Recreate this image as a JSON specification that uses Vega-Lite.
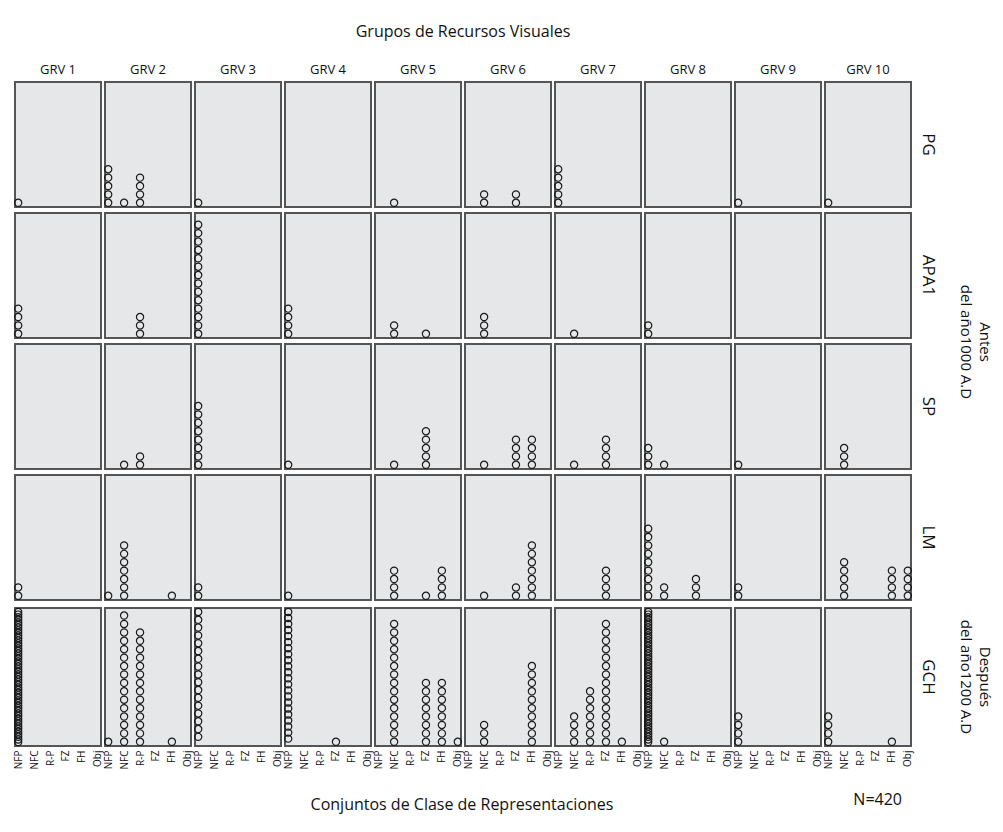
{
"$schema": "https://vega.github.io/schema/vega-lite/v6.json",
"background": "white",
"padding": {"left": 11, "top": 24, "right": 5, "bottom": 5},
"config": {
  "font": "Open Sans",
  "view": {"fill": "#e6e7e8", "stroke": "#555555", "strokeWidth": 2},
  "axis": {"grid": false},
  "header": {"labelColor": "#111", "titleColor": "#111", "titleFontWeight": "normal"},
  "title": {"color": "#111", "fontWeight": "normal"}
},
"data": {"values": [
{"grv":1,"fila":1,"clase":"NFP"},
{"grv":2,"fila":1,"clase":"NFP"},{"grv":2,"fila":1,"clase":"NFP"},{"grv":2,"fila":1,"clase":"NFP"},{"grv":2,"fila":1,"clase":"NFP"},{"grv":2,"fila":1,"clase":"NFP"},
{"grv":2,"fila":1,"clase":"NFC"},
{"grv":2,"fila":1,"clase":"R-P"},{"grv":2,"fila":1,"clase":"R-P"},{"grv":2,"fila":1,"clase":"R-P"},{"grv":2,"fila":1,"clase":"R-P"},
{"grv":3,"fila":1,"clase":"NFP"},
{"grv":5,"fila":1,"clase":"NFC"},
{"grv":6,"fila":1,"clase":"NFC"},{"grv":6,"fila":1,"clase":"NFC"},
{"grv":6,"fila":1,"clase":"FZ"},{"grv":6,"fila":1,"clase":"FZ"},
{"grv":7,"fila":1,"clase":"NFP"},{"grv":7,"fila":1,"clase":"NFP"},{"grv":7,"fila":1,"clase":"NFP"},{"grv":7,"fila":1,"clase":"NFP"},{"grv":7,"fila":1,"clase":"NFP"},
{"grv":9,"fila":1,"clase":"NFP"},
{"grv":10,"fila":1,"clase":"NFP"},
{"grv":1,"fila":2,"clase":"NFP"},{"grv":1,"fila":2,"clase":"NFP"},{"grv":1,"fila":2,"clase":"NFP"},{"grv":1,"fila":2,"clase":"NFP"},
{"grv":2,"fila":2,"clase":"R-P"},{"grv":2,"fila":2,"clase":"R-P"},{"grv":2,"fila":2,"clase":"R-P"},
{"grv":3,"fila":2,"clase":"NFP"},{"grv":3,"fila":2,"clase":"NFP"},{"grv":3,"fila":2,"clase":"NFP"},{"grv":3,"fila":2,"clase":"NFP"},
{"grv":3,"fila":2,"clase":"NFP"},{"grv":3,"fila":2,"clase":"NFP"},{"grv":3,"fila":2,"clase":"NFP"},{"grv":3,"fila":2,"clase":"NFP"},
{"grv":3,"fila":2,"clase":"NFP"},{"grv":3,"fila":2,"clase":"NFP"},{"grv":3,"fila":2,"clase":"NFP"},{"grv":3,"fila":2,"clase":"NFP"},
{"grv":3,"fila":2,"clase":"NFP"},{"grv":3,"fila":2,"clase":"NFP"},
{"grv":4,"fila":2,"clase":"NFP"},{"grv":4,"fila":2,"clase":"NFP"},{"grv":4,"fila":2,"clase":"NFP"},{"grv":4,"fila":2,"clase":"NFP"},
{"grv":5,"fila":2,"clase":"NFC"},{"grv":5,"fila":2,"clase":"NFC"},
{"grv":5,"fila":2,"clase":"FZ"},
{"grv":6,"fila":2,"clase":"NFC"},{"grv":6,"fila":2,"clase":"NFC"},{"grv":6,"fila":2,"clase":"NFC"},
{"grv":7,"fila":2,"clase":"NFC"},
{"grv":8,"fila":2,"clase":"NFP"},{"grv":8,"fila":2,"clase":"NFP"},
{"grv":2,"fila":3,"clase":"NFC"},
{"grv":2,"fila":3,"clase":"R-P"},{"grv":2,"fila":3,"clase":"R-P"},
{"grv":3,"fila":3,"clase":"NFP"},{"grv":3,"fila":3,"clase":"NFP"},{"grv":3,"fila":3,"clase":"NFP"},{"grv":3,"fila":3,"clase":"NFP"},
{"grv":3,"fila":3,"clase":"NFP"},{"grv":3,"fila":3,"clase":"NFP"},{"grv":3,"fila":3,"clase":"NFP"},{"grv":3,"fila":3,"clase":"NFP"},
{"grv":4,"fila":3,"clase":"NFP"},
{"grv":5,"fila":3,"clase":"NFC"},
{"grv":5,"fila":3,"clase":"FZ"},{"grv":5,"fila":3,"clase":"FZ"},{"grv":5,"fila":3,"clase":"FZ"},{"grv":5,"fila":3,"clase":"FZ"},{"grv":5,"fila":3,"clase":"FZ"},
{"grv":6,"fila":3,"clase":"NFC"},
{"grv":6,"fila":3,"clase":"FZ"},{"grv":6,"fila":3,"clase":"FZ"},{"grv":6,"fila":3,"clase":"FZ"},{"grv":6,"fila":3,"clase":"FZ"},
{"grv":6,"fila":3,"clase":"FH"},{"grv":6,"fila":3,"clase":"FH"},{"grv":6,"fila":3,"clase":"FH"},{"grv":6,"fila":3,"clase":"FH"},
{"grv":7,"fila":3,"clase":"NFC"},
{"grv":7,"fila":3,"clase":"FZ"},{"grv":7,"fila":3,"clase":"FZ"},{"grv":7,"fila":3,"clase":"FZ"},{"grv":7,"fila":3,"clase":"FZ"},
{"grv":8,"fila":3,"clase":"NFP"},{"grv":8,"fila":3,"clase":"NFP"},{"grv":8,"fila":3,"clase":"NFP"},
{"grv":8,"fila":3,"clase":"NFC"},
{"grv":9,"fila":3,"clase":"NFP"},
{"grv":10,"fila":3,"clase":"NFC"},{"grv":10,"fila":3,"clase":"NFC"},{"grv":10,"fila":3,"clase":"NFC"},
{"grv":1,"fila":4,"clase":"NFP"},{"grv":1,"fila":4,"clase":"NFP"},
{"grv":2,"fila":4,"clase":"NFP"},
{"grv":2,"fila":4,"clase":"NFC"},{"grv":2,"fila":4,"clase":"NFC"},{"grv":2,"fila":4,"clase":"NFC"},{"grv":2,"fila":4,"clase":"NFC"},
{"grv":2,"fila":4,"clase":"NFC"},{"grv":2,"fila":4,"clase":"NFC"},{"grv":2,"fila":4,"clase":"NFC"},
{"grv":2,"fila":4,"clase":"FH"},
{"grv":3,"fila":4,"clase":"NFP"},{"grv":3,"fila":4,"clase":"NFP"},
{"grv":4,"fila":4,"clase":"NFP"},
{"grv":5,"fila":4,"clase":"NFC"},{"grv":5,"fila":4,"clase":"NFC"},{"grv":5,"fila":4,"clase":"NFC"},{"grv":5,"fila":4,"clase":"NFC"},
{"grv":5,"fila":4,"clase":"FZ"},
{"grv":5,"fila":4,"clase":"FH"},{"grv":5,"fila":4,"clase":"FH"},{"grv":5,"fila":4,"clase":"FH"},{"grv":5,"fila":4,"clase":"FH"},
{"grv":6,"fila":4,"clase":"NFC"},
{"grv":6,"fila":4,"clase":"FZ"},{"grv":6,"fila":4,"clase":"FZ"},
{"grv":6,"fila":4,"clase":"FH"},{"grv":6,"fila":4,"clase":"FH"},{"grv":6,"fila":4,"clase":"FH"},{"grv":6,"fila":4,"clase":"FH"},
{"grv":6,"fila":4,"clase":"FH"},{"grv":6,"fila":4,"clase":"FH"},{"grv":6,"fila":4,"clase":"FH"},
{"grv":7,"fila":4,"clase":"FZ"},{"grv":7,"fila":4,"clase":"FZ"},{"grv":7,"fila":4,"clase":"FZ"},{"grv":7,"fila":4,"clase":"FZ"},
{"grv":8,"fila":4,"clase":"NFP"},{"grv":8,"fila":4,"clase":"NFP"},{"grv":8,"fila":4,"clase":"NFP"},{"grv":8,"fila":4,"clase":"NFP"},
{"grv":8,"fila":4,"clase":"NFP"},{"grv":8,"fila":4,"clase":"NFP"},{"grv":8,"fila":4,"clase":"NFP"},{"grv":8,"fila":4,"clase":"NFP"},
{"grv":8,"fila":4,"clase":"NFP"},
{"grv":8,"fila":4,"clase":"NFC"},{"grv":8,"fila":4,"clase":"NFC"},
{"grv":8,"fila":4,"clase":"FZ"},{"grv":8,"fila":4,"clase":"FZ"},{"grv":8,"fila":4,"clase":"FZ"},
{"grv":9,"fila":4,"clase":"NFP"},{"grv":9,"fila":4,"clase":"NFP"},
{"grv":10,"fila":4,"clase":"NFC"},{"grv":10,"fila":4,"clase":"NFC"},{"grv":10,"fila":4,"clase":"NFC"},{"grv":10,"fila":4,"clase":"NFC"},{"grv":10,"fila":4,"clase":"NFC"},
{"grv":10,"fila":4,"clase":"FH"},{"grv":10,"fila":4,"clase":"FH"},{"grv":10,"fila":4,"clase":"FH"},{"grv":10,"fila":4,"clase":"FH"},
{"grv":10,"fila":4,"clase":"Obj"},{"grv":10,"fila":4,"clase":"Obj"},{"grv":10,"fila":4,"clase":"Obj"},{"grv":10,"fila":4,"clase":"Obj"},
{"grv":1,"fila":5,"clase":"NFP"},{"grv":1,"fila":5,"clase":"NFP"},{"grv":1,"fila":5,"clase":"NFP"},{"grv":1,"fila":5,"clase":"NFP"},
{"grv":1,"fila":5,"clase":"NFP"},{"grv":1,"fila":5,"clase":"NFP"},{"grv":1,"fila":5,"clase":"NFP"},{"grv":1,"fila":5,"clase":"NFP"},
{"grv":1,"fila":5,"clase":"NFP"},{"grv":1,"fila":5,"clase":"NFP"},{"grv":1,"fila":5,"clase":"NFP"},{"grv":1,"fila":5,"clase":"NFP"},
{"grv":1,"fila":5,"clase":"NFP"},{"grv":1,"fila":5,"clase":"NFP"},{"grv":1,"fila":5,"clase":"NFP"},{"grv":1,"fila":5,"clase":"NFP"},
{"grv":1,"fila":5,"clase":"NFP"},{"grv":1,"fila":5,"clase":"NFP"},{"grv":1,"fila":5,"clase":"NFP"},{"grv":1,"fila":5,"clase":"NFP"},
{"grv":1,"fila":5,"clase":"NFP"},{"grv":1,"fila":5,"clase":"NFP"},{"grv":1,"fila":5,"clase":"NFP"},{"grv":1,"fila":5,"clase":"NFP"},
{"grv":1,"fila":5,"clase":"NFP"},{"grv":1,"fila":5,"clase":"NFP"},{"grv":1,"fila":5,"clase":"NFP"},{"grv":1,"fila":5,"clase":"NFP"},
{"grv":1,"fila":5,"clase":"NFP"},{"grv":1,"fila":5,"clase":"NFP"},{"grv":1,"fila":5,"clase":"NFP"},{"grv":1,"fila":5,"clase":"NFP"},
{"grv":1,"fila":5,"clase":"NFP"},{"grv":1,"fila":5,"clase":"NFP"},{"grv":1,"fila":5,"clase":"NFP"},{"grv":1,"fila":5,"clase":"NFP"},
{"grv":1,"fila":5,"clase":"NFP"},{"grv":1,"fila":5,"clase":"NFP"},{"grv":1,"fila":5,"clase":"NFP"},{"grv":1,"fila":5,"clase":"NFP"},
{"grv":1,"fila":5,"clase":"NFP"},{"grv":1,"fila":5,"clase":"NFP"},{"grv":1,"fila":5,"clase":"NFP"},{"grv":1,"fila":5,"clase":"NFP"},
{"grv":1,"fila":5,"clase":"NFP"},{"grv":1,"fila":5,"clase":"NFP"},{"grv":1,"fila":5,"clase":"NFP"},{"grv":1,"fila":5,"clase":"NFP"},
{"grv":1,"fila":5,"clase":"NFP"},{"grv":1,"fila":5,"clase":"NFP"},{"grv":1,"fila":5,"clase":"NFP"},
{"grv":2,"fila":5,"clase":"NFP"},
{"grv":2,"fila":5,"clase":"NFC"},{"grv":2,"fila":5,"clase":"NFC"},{"grv":2,"fila":5,"clase":"NFC"},{"grv":2,"fila":5,"clase":"NFC"},{"grv":2,"fila":5,"clase":"NFC"},
{"grv":2,"fila":5,"clase":"NFC"},{"grv":2,"fila":5,"clase":"NFC"},{"grv":2,"fila":5,"clase":"NFC"},{"grv":2,"fila":5,"clase":"NFC"},{"grv":2,"fila":5,"clase":"NFC"},
{"grv":2,"fila":5,"clase":"NFC"},{"grv":2,"fila":5,"clase":"NFC"},{"grv":2,"fila":5,"clase":"NFC"},{"grv":2,"fila":5,"clase":"NFC"},{"grv":2,"fila":5,"clase":"NFC"},
{"grv":2,"fila":5,"clase":"NFC"},
{"grv":2,"fila":5,"clase":"R-P"},{"grv":2,"fila":5,"clase":"R-P"},{"grv":2,"fila":5,"clase":"R-P"},{"grv":2,"fila":5,"clase":"R-P"},{"grv":2,"fila":5,"clase":"R-P"},
{"grv":2,"fila":5,"clase":"R-P"},{"grv":2,"fila":5,"clase":"R-P"},{"grv":2,"fila":5,"clase":"R-P"},{"grv":2,"fila":5,"clase":"R-P"},{"grv":2,"fila":5,"clase":"R-P"},
{"grv":2,"fila":5,"clase":"R-P"},{"grv":2,"fila":5,"clase":"R-P"},{"grv":2,"fila":5,"clase":"R-P"},{"grv":2,"fila":5,"clase":"R-P"},
{"grv":2,"fila":5,"clase":"FH"},
{"grv":3,"fila":5,"clase":"NFP"},{"grv":3,"fila":5,"clase":"NFP"},{"grv":3,"fila":5,"clase":"NFP"},{"grv":3,"fila":5,"clase":"NFP"},
{"grv":3,"fila":5,"clase":"NFP"},{"grv":3,"fila":5,"clase":"NFP"},{"grv":3,"fila":5,"clase":"NFP"},{"grv":3,"fila":5,"clase":"NFP"},
{"grv":3,"fila":5,"clase":"NFP"},{"grv":3,"fila":5,"clase":"NFP"},{"grv":3,"fila":5,"clase":"NFP"},{"grv":3,"fila":5,"clase":"NFP"},
{"grv":3,"fila":5,"clase":"NFP"},{"grv":3,"fila":5,"clase":"NFP"},{"grv":3,"fila":5,"clase":"NFP"},{"grv":3,"fila":5,"clase":"NFP"},
{"grv":3,"fila":5,"clase":"NFP"},
{"grv":4,"fila":5,"clase":"NFP"},{"grv":4,"fila":5,"clase":"NFP"},{"grv":4,"fila":5,"clase":"NFP"},{"grv":4,"fila":5,"clase":"NFP"},
{"grv":4,"fila":5,"clase":"NFP"},{"grv":4,"fila":5,"clase":"NFP"},{"grv":4,"fila":5,"clase":"NFP"},{"grv":4,"fila":5,"clase":"NFP"},
{"grv":4,"fila":5,"clase":"NFP"},{"grv":4,"fila":5,"clase":"NFP"},{"grv":4,"fila":5,"clase":"NFP"},{"grv":4,"fila":5,"clase":"NFP"},
{"grv":4,"fila":5,"clase":"NFP"},{"grv":4,"fila":5,"clase":"NFP"},{"grv":4,"fila":5,"clase":"NFP"},{"grv":4,"fila":5,"clase":"NFP"},
{"grv":4,"fila":5,"clase":"NFP"},{"grv":4,"fila":5,"clase":"NFP"},{"grv":4,"fila":5,"clase":"NFP"},{"grv":4,"fila":5,"clase":"NFP"},
{"grv":4,"fila":5,"clase":"NFP"},{"grv":4,"fila":5,"clase":"NFP"},
{"grv":4,"fila":5,"clase":"FZ"},
{"grv":5,"fila":5,"clase":"NFC"},{"grv":5,"fila":5,"clase":"NFC"},{"grv":5,"fila":5,"clase":"NFC"},{"grv":5,"fila":5,"clase":"NFC"},{"grv":5,"fila":5,"clase":"NFC"},
{"grv":5,"fila":5,"clase":"NFC"},{"grv":5,"fila":5,"clase":"NFC"},{"grv":5,"fila":5,"clase":"NFC"},{"grv":5,"fila":5,"clase":"NFC"},{"grv":5,"fila":5,"clase":"NFC"},
{"grv":5,"fila":5,"clase":"NFC"},{"grv":5,"fila":5,"clase":"NFC"},{"grv":5,"fila":5,"clase":"NFC"},{"grv":5,"fila":5,"clase":"NFC"},{"grv":5,"fila":5,"clase":"NFC"},
{"grv":5,"fila":5,"clase":"FZ"},{"grv":5,"fila":5,"clase":"FZ"},{"grv":5,"fila":5,"clase":"FZ"},{"grv":5,"fila":5,"clase":"FZ"},
{"grv":5,"fila":5,"clase":"FZ"},{"grv":5,"fila":5,"clase":"FZ"},{"grv":5,"fila":5,"clase":"FZ"},{"grv":5,"fila":5,"clase":"FZ"},
{"grv":5,"fila":5,"clase":"FH"},{"grv":5,"fila":5,"clase":"FH"},{"grv":5,"fila":5,"clase":"FH"},{"grv":5,"fila":5,"clase":"FH"},
{"grv":5,"fila":5,"clase":"FH"},{"grv":5,"fila":5,"clase":"FH"},{"grv":5,"fila":5,"clase":"FH"},{"grv":5,"fila":5,"clase":"FH"},
{"grv":5,"fila":5,"clase":"Obj"},
{"grv":6,"fila":5,"clase":"NFC"},{"grv":6,"fila":5,"clase":"NFC"},{"grv":6,"fila":5,"clase":"NFC"},
{"grv":6,"fila":5,"clase":"FH"},{"grv":6,"fila":5,"clase":"FH"},{"grv":6,"fila":5,"clase":"FH"},{"grv":6,"fila":5,"clase":"FH"},{"grv":6,"fila":5,"clase":"FH"},
{"grv":6,"fila":5,"clase":"FH"},{"grv":6,"fila":5,"clase":"FH"},{"grv":6,"fila":5,"clase":"FH"},{"grv":6,"fila":5,"clase":"FH"},{"grv":6,"fila":5,"clase":"FH"},
{"grv":7,"fila":5,"clase":"NFC"},{"grv":7,"fila":5,"clase":"NFC"},{"grv":7,"fila":5,"clase":"NFC"},{"grv":7,"fila":5,"clase":"NFC"},
{"grv":7,"fila":5,"clase":"R-P"},{"grv":7,"fila":5,"clase":"R-P"},{"grv":7,"fila":5,"clase":"R-P"},{"grv":7,"fila":5,"clase":"R-P"},
{"grv":7,"fila":5,"clase":"R-P"},{"grv":7,"fila":5,"clase":"R-P"},{"grv":7,"fila":5,"clase":"R-P"},
{"grv":7,"fila":5,"clase":"FZ"},{"grv":7,"fila":5,"clase":"FZ"},{"grv":7,"fila":5,"clase":"FZ"},{"grv":7,"fila":5,"clase":"FZ"},{"grv":7,"fila":5,"clase":"FZ"},
{"grv":7,"fila":5,"clase":"FZ"},{"grv":7,"fila":5,"clase":"FZ"},{"grv":7,"fila":5,"clase":"FZ"},{"grv":7,"fila":5,"clase":"FZ"},{"grv":7,"fila":5,"clase":"FZ"},
{"grv":7,"fila":5,"clase":"FZ"},{"grv":7,"fila":5,"clase":"FZ"},{"grv":7,"fila":5,"clase":"FZ"},{"grv":7,"fila":5,"clase":"FZ"},{"grv":7,"fila":5,"clase":"FZ"},
{"grv":7,"fila":5,"clase":"FH"},
{"grv":8,"fila":5,"clase":"NFP"},{"grv":8,"fila":5,"clase":"NFP"},{"grv":8,"fila":5,"clase":"NFP"},{"grv":8,"fila":5,"clase":"NFP"},
{"grv":8,"fila":5,"clase":"NFP"},{"grv":8,"fila":5,"clase":"NFP"},{"grv":8,"fila":5,"clase":"NFP"},{"grv":8,"fila":5,"clase":"NFP"},
{"grv":8,"fila":5,"clase":"NFP"},{"grv":8,"fila":5,"clase":"NFP"},{"grv":8,"fila":5,"clase":"NFP"},{"grv":8,"fila":5,"clase":"NFP"},
{"grv":8,"fila":5,"clase":"NFP"},{"grv":8,"fila":5,"clase":"NFP"},{"grv":8,"fila":5,"clase":"NFP"},{"grv":8,"fila":5,"clase":"NFP"},
{"grv":8,"fila":5,"clase":"NFP"},{"grv":8,"fila":5,"clase":"NFP"},{"grv":8,"fila":5,"clase":"NFP"},{"grv":8,"fila":5,"clase":"NFP"},
{"grv":8,"fila":5,"clase":"NFP"},{"grv":8,"fila":5,"clase":"NFP"},{"grv":8,"fila":5,"clase":"NFP"},{"grv":8,"fila":5,"clase":"NFP"},
{"grv":8,"fila":5,"clase":"NFP"},{"grv":8,"fila":5,"clase":"NFP"},{"grv":8,"fila":5,"clase":"NFP"},{"grv":8,"fila":5,"clase":"NFP"},
{"grv":8,"fila":5,"clase":"NFP"},{"grv":8,"fila":5,"clase":"NFP"},{"grv":8,"fila":5,"clase":"NFP"},{"grv":8,"fila":5,"clase":"NFP"},
{"grv":8,"fila":5,"clase":"NFP"},{"grv":8,"fila":5,"clase":"NFP"},{"grv":8,"fila":5,"clase":"NFP"},{"grv":8,"fila":5,"clase":"NFP"},
{"grv":8,"fila":5,"clase":"NFP"},{"grv":8,"fila":5,"clase":"NFP"},{"grv":8,"fila":5,"clase":"NFP"},{"grv":8,"fila":5,"clase":"NFP"},
{"grv":8,"fila":5,"clase":"NFP"},{"grv":8,"fila":5,"clase":"NFP"},{"grv":8,"fila":5,"clase":"NFP"},{"grv":8,"fila":5,"clase":"NFP"},
{"grv":8,"fila":5,"clase":"NFP"},{"grv":8,"fila":5,"clase":"NFP"},{"grv":8,"fila":5,"clase":"NFP"},{"grv":8,"fila":5,"clase":"NFP"},
{"grv":8,"fila":5,"clase":"NFP"},{"grv":8,"fila":5,"clase":"NFP"},{"grv":8,"fila":5,"clase":"NFP"},
{"grv":8,"fila":5,"clase":"NFC"},
{"grv":9,"fila":5,"clase":"NFP"},{"grv":9,"fila":5,"clase":"NFP"},{"grv":9,"fila":5,"clase":"NFP"},{"grv":9,"fila":5,"clase":"NFP"},
{"grv":10,"fila":5,"clase":"NFP"},{"grv":10,"fila":5,"clase":"NFP"},{"grv":10,"fila":5,"clase":"NFP"},{"grv":10,"fila":5,"clase":"NFP"},
{"grv":10,"fila":5,"clase":"FH"}
]},
"spacing": 1,
"vconcat": [
  {
    "transform": [
      {"filter": "datum.fila <= 4"},
      {"window": [{"op": "row_number", "as": "n"}], "groupby": ["grv", "fila", "clase"]}
    ],
    "bounds": "flush",
    "facet": {
      "column": {"field": "grv", "type": "ordinal", "sort": "ascending",
        "header": {"title": "Grupos de Recursos Visuales", "titleFontSize": 16, "titlePadding": 14,
                   "labelExpr": "'GRV ' + datum.value", "labelFontSize": 13, "labelPadding": 5}},
      "row": {"field": "fila", "type": "ordinal", "sort": "ascending",
        "header": {"labelOrient": "right", "labelAngle": 90, "labelFontSize": 17, "labelPadding": 8,
                   "labelExpr": "['', 'PG', 'APA1', 'SP', 'LM', 'GCH'][datum.value]",
                   "title": ["Antes", "del año1000 A.D"], "titleOrient": "right", "titleAngle": 90,
                   "titleFontSize": 15, "titlePadding": 11, "titleLineHeight": 19}}
    },
    "spacing": {"row": 6, "column": 4},
    "spec": {
      "width": 86, "height": 125,
      "mark": {"type": "point", "shape": "circle", "filled": false, "stroke": "#1a1a1a", "strokeWidth": 1.2, "size": 52, "opacity": 1},
      "encoding": {
        "x": {"field": "clase", "type": "nominal",
              "scale": {"type": "point", "domain": ["NFP", "NFC", "R-P", "FZ", "FH", "Obj"], "padding": 0.2}, "axis": null},
        "y": {"field": "n", "type": "quantitative", "scale": {"domain": [0.5, 15.4], "nice": false, "zero": false}, "axis": null}
      }
    }
  },
  {
    "transform": [
      {"filter": "datum.fila == 5"},
      {"window": [{"op": "row_number", "as": "n"}], "groupby": ["grv", "fila", "clase"]},
      {"joinaggregate": [{"op": "count", "as": "cnt"}], "groupby": ["grv", "fila", "clase"]},
      {"window": [{"op": "cume_dist", "as": "cd"}], "sort": [{"field": "n", "order": "ascending"}], "groupby": ["grv", "fila", "clase"]}
    ],
    "bounds": "flush",
    "facet": {
      "column": {"field": "grv", "type": "ordinal", "sort": "ascending",
        "header": {"labels": false, "title": "Conjuntos de Clase de Representaciones", "titleOrient": "bottom",
                   "titleFontSize": 16, "titlePadding": 18}},
      "row": {"field": "fila", "type": "ordinal",
        "header": {"labelOrient": "right", "labelAngle": 90, "labelFontSize": 17, "labelPadding": 8,
                   "labelExpr": "['', 'PG', 'APA1', 'SP', 'LM', 'GCH'][datum.value]",
                   "title": ["Después", "del año1200 A.D"], "titleOrient": "right", "titleAngle": 90,
                   "titleFontSize": 15, "titlePadding": 11, "titleLineHeight": 19}}
    },
    "spacing": {"row": 6, "column": 4},
    "spec": {
      "width": 86, "height": 138,
      "layer": [
        {
          "transform": [{"filter": "datum.cnt <= 16"}],
          "mark": {"type": "point", "shape": "circle", "filled": false, "stroke": "#1a1a1a", "strokeWidth": 1.2, "size": 52, "opacity": 1},
          "encoding": {
            "x": {"field": "clase", "type": "nominal",
                  "scale": {"type": "point", "domain": ["NFP", "NFC", "R-P", "FZ", "FH", "Obj"], "padding": 0.2},
                  "axis": {"labelAngle": -90, "labelFontSize": 10, "labelColor": "#111", "ticks": false, "domain": false, "labelPadding": 4, "title": null}},
            "y": {"field": "n", "type": "quantitative", "scale": {"domain": [0.5, 16.9], "nice": false, "zero": false}, "axis": null}
          }
        },
        {
          "transform": [{"filter": "datum.cnt > 16"}],
          "mark": {"type": "point", "shape": "circle", "filled": false, "stroke": "#1a1a1a", "strokeWidth": 1.2, "size": 52, "opacity": 1},
          "encoding": {
            "x": {"field": "clase", "type": "nominal"},
            "y": {"field": "cd", "type": "quantitative", "scale": {"domain": [-0.01, 1.03], "nice": false, "zero": false}, "axis": null}
          }
        }
      ],
      "resolve": {"scale": {"y": "independent"}}
    }
  }
],
"title": {"text": "N=420", "orient": "bottom", "anchor": "end", "fontSize": 16, "dx": -90, "dy": -25}
}
